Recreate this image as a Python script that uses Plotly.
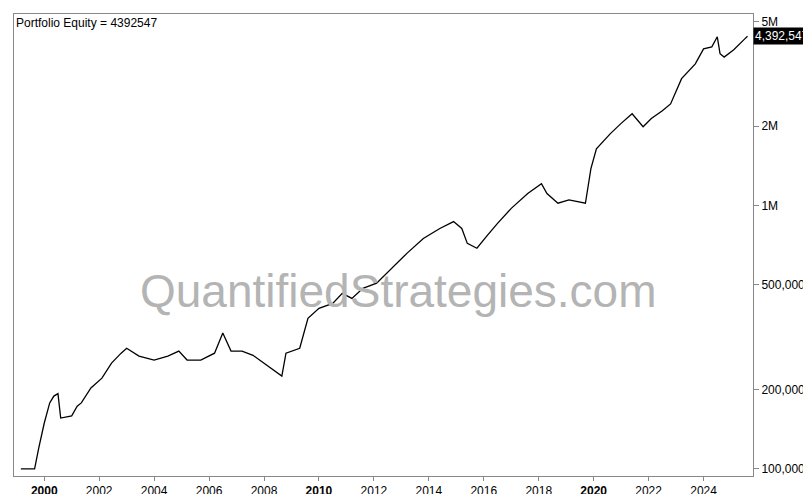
import plotly.graph_objects as go

# equity curve (decimal year, portfolio value)
years = [1999.15, 1999.65, 1999.8, 2000.0, 2000.2, 2000.35, 2000.5, 2000.6, 2001.0, 2001.2,
         2001.35, 2001.7, 2002.1, 2002.45, 2002.8, 2003.0, 2003.45, 2004.0, 2004.5, 2004.9,
         2005.2, 2005.7, 2006.2, 2006.5, 2006.8, 2007.2, 2007.6, 2008.65, 2008.8, 2009.3,
         2009.6, 2010.0, 2010.5, 2010.85, 2011.2, 2011.6, 2012.1, 2012.65, 2013.2, 2013.8,
         2014.4, 2014.9, 2015.2, 2015.4, 2015.75, 2016.1, 2016.5, 2017.0, 2017.6, 2018.1,
         2018.3, 2018.7, 2019.1, 2019.7, 2019.9, 2020.1, 2020.6, 2021.0, 2021.4, 2021.8,
         2022.1, 2022.5, 2022.8, 2023.2, 2023.7, 2024.0, 2024.3, 2024.5, 2024.6, 2024.75,
         2025.1, 2025.5, 2025.6]
equity = [100000, 100000, 120000, 149000, 178000, 189000, 193000, 156000, 159000, 173000,
          178000, 203000, 221000, 252000, 275000, 287000, 268000, 259000, 268000, 280000,
          259000, 259000, 275000, 328000, 280000, 280000, 270000, 225000, 275000, 287000,
          373000, 407000, 425000, 464000, 444000, 485000, 507000, 577000, 658000, 750000,
          818000, 869000, 818000, 718000, 688000, 763000, 855000, 975000, 1110000, 1210000,
          1110000, 1020000, 1050000, 1020000, 1380000, 1640000, 1870000, 2050000, 2230000, 1990000,
          2140000, 2290000, 2430000, 3030000, 3450000, 3930000, 4000000, 4370000, 3770000, 3660000,
          3900000, 4290000, 4392547]

year_ticks = list(range(2000, 2026, 2))
year_text = ["<b>%d</b>" % y if y % 10 == 0 else str(y) for y in year_ticks]
y_ticks = [100000, 200000, 500000, 1000000, 2000000, 5000000]
y_text = ["100,000", "200,000", "500,000", "1M", "2M", "5M"]

fig = go.Figure()
fig.add_trace(go.Scatter(x=years, y=equity, mode="lines",
                         line=dict(color="black", width=1.3), hoverinfo="x+y"))

fig.update_layout(
    width=811, height=494,
    margin=dict(l=6, r=66, t=6, b=26),
    plot_bgcolor="white", paper_bgcolor="white",
    showlegend=False,
    font=dict(family="Liberation Sans, Arial", size=12, color="black"),
    xaxis=dict(range=[1998.9, 2025.8], tickvals=year_ticks, ticktext=year_text,
               showgrid=False, zeroline=False, ticks="outside", ticklen=4,
               tickcolor="#888", showline=True, linecolor="#888", mirror=True,
               automargin=False),
    yaxis=dict(type="log", side="right", range=[4.973, 6.727],
               tickvals=y_ticks, ticktext=y_text, showgrid=False,
               ticks="outside", ticklen=5, tickcolor="#888",
               showline=True, linecolor="#888", mirror=True, automargin=False),
)

fig.add_annotation(text="Portfolio Equity = 4392547", xref="paper", yref="paper",
                   x=0.0, y=1.0, xanchor="left", yanchor="top", showarrow=False,
                   font=dict(size=12))
fig.add_annotation(text="QuantifiedStrategies.com", xref="paper", yref="paper",
                   x=0.52, y=0.4, showarrow=False,
                   font=dict(size=46, color="#b4b4b4"))
fig.add_annotation(text="4,392,547", xref="paper", yref="y",
                   x=1.0, y=6.6427, xanchor="left", showarrow=False,
                   bgcolor="black", font=dict(color="white", size=12),
                   borderpad=1)

fig.write_html("out.html")
